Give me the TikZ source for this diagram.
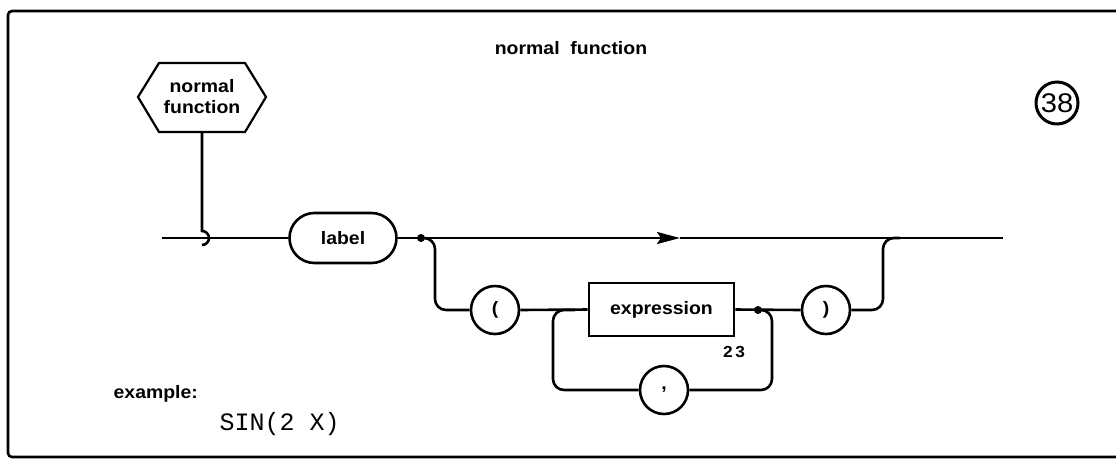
\documentclass[tikz,border=0pt]{standalone}
\usepackage{fontspec}
\setmainfont[FakeStretch=1.08]{Liberation Sans}
\setmonofont{Liberation Mono}
\usetikzlibrary{arrows.meta}
\begin{document}
\begin{tikzpicture}[x=1pt,y=-1pt,line width=2.6pt,
  lbl/.style={font=\fontsize{18}{21}\selectfont\bfseries},
  term/.style={draw,circle,minimum size=48pt,inner sep=0pt,lbl},
  nonterm/.style={draw,rectangle,minimum width=145pt,minimum height=53pt,inner sep=0pt,lbl},
  stadium/.style={draw,rectangle,rounded corners=25pt,minimum width=107pt,minimum height=50pt,inner sep=0pt,lbl},
  jdot/.style={circle,fill,inner sep=0pt,minimum size=8pt},
  roundpath/.style={rounded corners=11pt}
]
\useasboundingbox (0,0) rectangle (1116,459);
% frame
\draw[line width=2.6pt,rounded corners=4pt] (1116,11) -- (8,11) -- (8,457) -- (1116,457);
% title and number
\node[lbl] (title) at (571,48) {normal\hspace{0.6em}function};
\node[draw,circle,minimum size=42pt,line width=3pt,inner sep=0pt,font=\fontsize{27}{27}\selectfont] (num) at (1057,103) {38};
% hexagon entry
\node[lbl,align=center] (hex) at (202,97) {normal\\function};
\coordinate (hl) at (138,97);
\coordinate (htl) at (159,63);
\coordinate (htr) at (245,63);
\coordinate (hr) at (266,97);
\coordinate (hbr) at (245,132);
\coordinate (hbl) at (159,132);
\coordinate (hs) at (202,132);
\draw[line width=2.2pt] (hl) -- (htl) -- (htr) -- (hr) -- (hbr) -- (hbl) -- cycle;
\coordinate (hook) at (202,231);
\draw (hs) -- (hook) arc[start angle=90,end angle=-90,radius=7pt];
% main line
\coordinate (start) at (162,238);
\node[stadium] (label) at (343,238) {label};
\node[jdot] (d1) at (421,238) {};
\coordinate (atip) at (680,238);
\coordinate (mend) at (1003,238);
\draw (start) -- (label.west);
\draw (label.east) -- (d1.center);
\draw[-{Stealth[length=23pt,width=12pt,inset=4pt]}] (d1.center) -- (atip);
\draw (atip) -- (mend);
% optional argument list
\node[term] (lp) at (495,310) {(};
\node[nonterm] (expr) at (661.5,309.5) {expression};
\node[jdot] (d2) at (758,310) {};
\node[term] (rp) at (826,310) {)};
\node[term] (comma) at (664,390) {,};
\node[font=\fontsize{16}{16}\selectfont\bfseries] (ref) at (734,352) {2\,3};
\coordinate (c1) at (435,238);
\coordinate (c2) at (883,238);
\coordinate (lb) at (553,310);
\coordinate (lj) at (575,310);
\coordinate (rb) at (772,390);
\draw[roundpath] (d1.center) -- (c1) |- (lp.west);
\draw (lp.east) -- (expr.west);
\draw (expr.east) -- (rp.west);
\draw[roundpath] (rp.east) -| (c2) -- (900,238);
\draw[roundpath] (d2.center) -| (rb) -- (comma.east);
\draw[roundpath] (comma.west) -| (lb) -- (lj);
% example
\node[lbl,anchor=west] (ex) at (109,394) {example:};
\node[font=\ttfamily\fontsize{25}{25}\selectfont,anchor=west] (sin) at (215,424) {SIN(2 X)};
\end{tikzpicture}
\end{document}
